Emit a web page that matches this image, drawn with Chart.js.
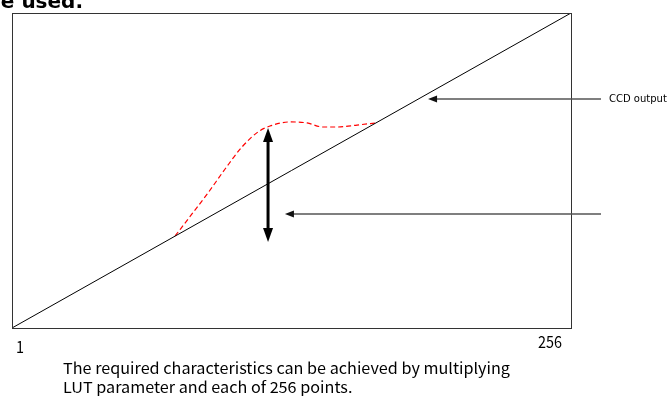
<!DOCTYPE html>
<html>
<head>
<meta charset="utf-8">
<script src="https://cdn.jsdelivr.net/npm/chart.js@4.4.0/dist/chart.umd.min.js"></script>
<style>
  html, body { margin: 0; padding: 0; background: #fff; }
  #wrap { width: 670px; height: 396px; }
</style>
</head>
<body>
<div id="wrap"><canvas id="lutChart" width="670" height="396"></canvas></div>
<script>
// Linea de referencia (entrada = salida)
const lineaX = [1, 256];
const lineaY = [1, 256];

// Curva LUT deseada (roja, discontinua)
const curvaX = [75.4, 83.1, 90.4, 98.2, 105.9, 113.2, 118.7, 127.8, 135.6, 142.9, 149.3, 158.4, 167.1];
const curvaY = [75.5, 93.3, 110.3, 129.7, 147.5, 159.7, 164.5, 167.8, 167, 163.7, 163.7, 165.3, 167];

// Flechas: [x1, y1, x2, y2] en unidades de datos (la punta en x2,y2)
const flechaDoble = [117.8, 70.6, 117.8, 162.9];
const flechaCCD = [269.7, 186.4, 190.8, 186.4];
const flechaLUT = [269.7, 93.3, 125.5, 93.3];

// Textos
const etiquetasEje = ['1', '256'];
const etiquetaCCD = 'CCD output';
const titulo = 'e used.';
const nota = [
    'The required characteristics can be achieved by multiplying',
    'LUT parameter and each of 256 points.'
];

function toXY(xs, ys) {
    return xs.map((x, i) => ({ x: x, y: ys[i] }));
}

function punta(ctx, x1, y1, x2, y2, largo, ancho) {
    const ang = Math.atan2(y2 - y1, x2 - x1);
    ctx.beginPath();
    ctx.moveTo(x2, y2);
    ctx.lineTo(x2 - largo * Math.cos(ang) + ancho / 2 * Math.sin(ang), y2 - largo * Math.sin(ang) - ancho / 2 * Math.cos(ang));
    ctx.lineTo(x2 - largo * Math.cos(ang) - ancho / 2 * Math.sin(ang), y2 - largo * Math.sin(ang) + ancho / 2 * Math.cos(ang));
    ctx.closePath();
    ctx.fill();
}

// texto estirado/comprimido en horizontal
function textoEscalado(ctx, txt, x, y, escala) {
    ctx.save();
    ctx.translate(x, y);
    ctx.scale(escala, 1);
    ctx.fillText(txt, 0, 0);
    ctx.restore();
}

const extras = {
    id: 'extras',
    afterDraw(chart) {
        const ctx = chart.ctx;
        const a = chart.chartArea;
        const sx = chart.scales.x, sy = chart.scales.y;
        ctx.save();

        // marco
        ctx.strokeStyle = '#333';
        ctx.lineWidth = 1;
        ctx.strokeRect(a.left + 0.5, a.top + 0.5, a.right - a.left, a.bottom - a.top);

        // flechas simples (grises)
        [flechaCCD, flechaLUT].forEach(f => {
            const x1 = sx.getPixelForValue(f[0]), y1 = sy.getPixelForValue(f[1]);
            const x2 = sx.getPixelForValue(f[2]), y2 = sy.getPixelForValue(f[3]);
            ctx.strokeStyle = '#555';
            ctx.fillStyle = '#111';
            ctx.lineWidth = 1.5;
            ctx.beginPath();
            ctx.moveTo(x1, y1);
            ctx.lineTo(x2 + 6, y2);
            ctx.stroke();
            punta(ctx, x1, y1, x2, y2, 9, 7);
        });

        // flecha doble (negra)
        const dx1 = sx.getPixelForValue(flechaDoble[0]), dy1 = sy.getPixelForValue(flechaDoble[1]);
        const dx2 = sx.getPixelForValue(flechaDoble[2]), dy2 = sy.getPixelForValue(flechaDoble[3]);
        ctx.strokeStyle = '#000';
        ctx.fillStyle = '#000';
        ctx.lineWidth = 3;
        ctx.beginPath();
        ctx.moveTo(dx1, dy1 - 10);
        ctx.lineTo(dx2, dy2 + 10);
        ctx.stroke();
        punta(ctx, dx2, dy1, dx2, dy2, 14, 10);
        punta(ctx, dx1, dy2, dx1, dy1, 14, 10);

        // textos
        ctx.fillStyle = '#000';
        ctx.textBaseline = 'alphabetic';
        ctx.textAlign = 'left';
        ctx.font = '16px "Noto Sans CJK JP"';
        textoEscalado(ctx, etiquetasEje[0], a.left + 4, 353, 0.9);
        const w256 = ctx.measureText(etiquetasEje[1]).width * 0.9;
        textoEscalado(ctx, etiquetasEje[1], a.right - 9 - w256, 348, 0.9);

        ctx.font = '15px "Noto Sans CJK JP"';
        const esc = 447 / ctx.measureText(nota[0]).width;
        textoEscalado(ctx, nota[0], 63, 374, esc);
        textoEscalado(ctx, nota[1], 63, 393, esc);

        ctx.font = '10px "DejaVu Sans"';
        ctx.textBaseline = 'middle';
        ctx.fillText(etiquetaCCD, 609, sy.getPixelForValue(flechaCCD[1]));

        ctx.font = 'bold 20px "DejaVu Sans"';
        ctx.textBaseline = 'alphabetic';
        ctx.textAlign = 'right';
        ctx.fillText(titulo, 83, 8);
        ctx.restore();
    }
};

const ctx1 = document.getElementById('lutChart').getContext('2d');
const lutChart = new Chart(ctx1, {
    type: 'line',
    data: {
        datasets: [{
            label: 'Lineal',
            data: toXY(lineaX, lineaY),
            borderColor: '#000',
            borderWidth: 1,
            pointRadius: 0,
            fill: false
        }, {
            label: 'LUT',
            data: toXY(curvaX, curvaY),
            borderColor: '#ff0000',
            borderWidth: 1.2,
            borderDash: [5, 3],
            pointRadius: 0,
            cubicInterpolationMode: 'monotone',
            fill: false
        }]
    },
    options: {
        responsive: false,
        animation: false,
        layout: { padding: { left: 12, top: 13, right: 99, bottom: 68 } },
        plugins: { legend: { display: false }, tooltip: { enabled: false } },
        scales: {
            x: { type: 'linear', min: 1, max: 256, display: false },
            y: { type: 'linear', min: 1, max: 256, display: false }
        }
    },
    plugins: [extras]
});
</script>
</body>
</html>
